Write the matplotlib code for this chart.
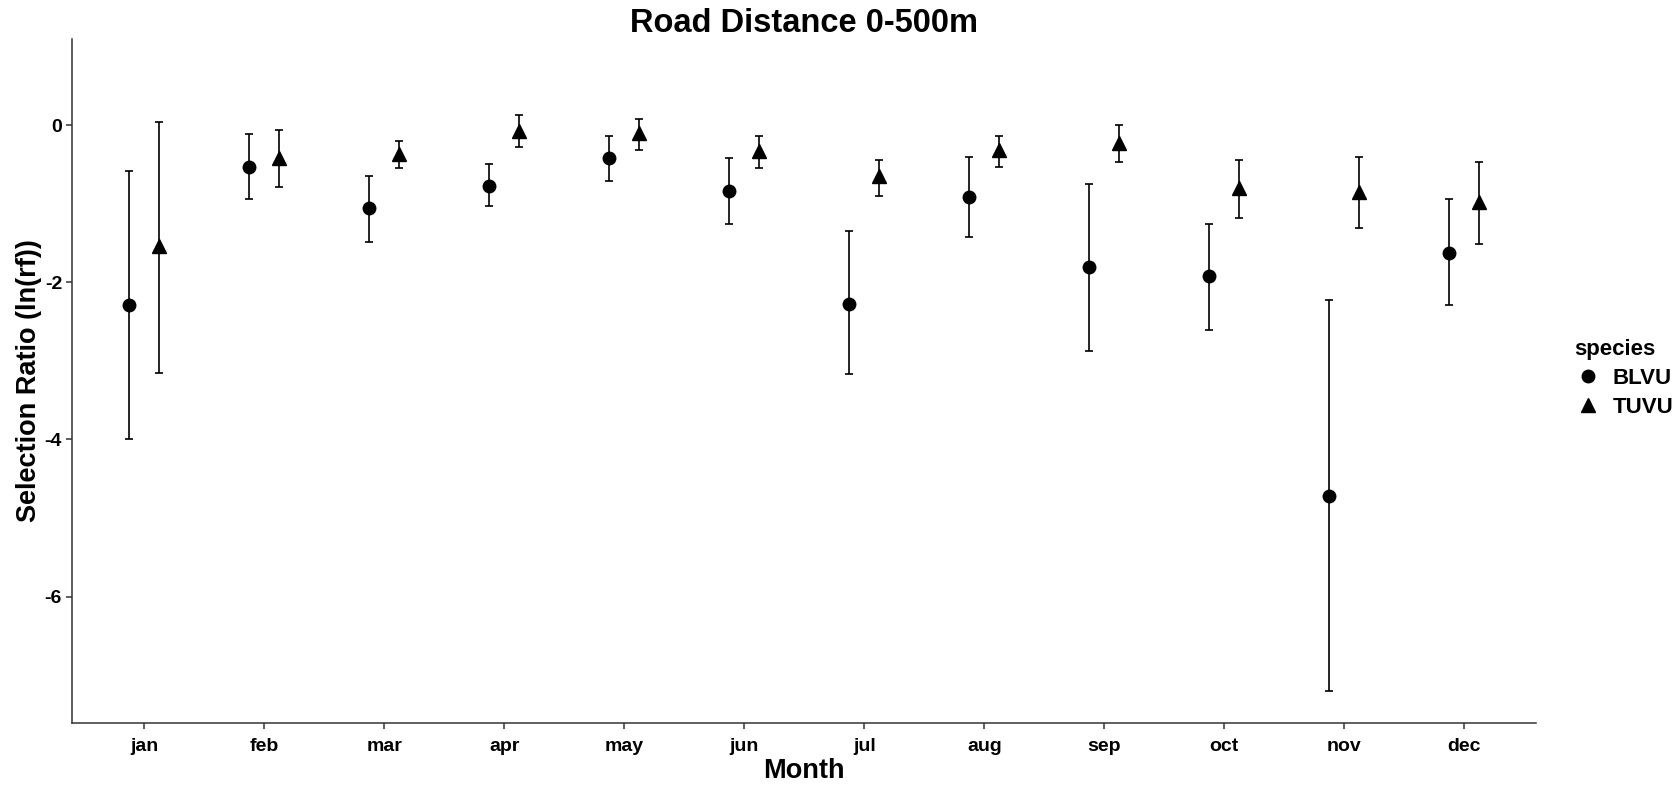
import numpy as np
import matplotlib
matplotlib.use("Agg")
import matplotlib.pyplot as plt
from matplotlib.lines import Line2D

plt.rcParams['font.family'] = ['Liberation Sans', 'DejaVu Sans']
plt.rcParams['font.weight'] = 'bold'
plt.rcParams['axes.unicode_minus'] = False

# selection ratio per month, mean with lower / upper bounds
months = ['jan', 'feb', 'mar', 'apr', 'may', 'jun', 'jul', 'aug', 'sep', 'oct', 'nov', 'dec']

blvu_mean = [-2.29, -0.53, -1.05, -0.77, -0.42, -0.84, -2.27, -0.91, -1.80, -1.92, -4.72, -1.62]
blvu_lo = [-3.99, -0.94, -1.49, -1.03, -0.71, -1.25, -3.17, -1.42, -2.87, -2.60, -7.20, -2.29]
blvu_hi = [-0.58, -0.11, -0.64, -0.49, -0.14, -0.42, -1.35, -0.40, -0.75, -1.25, -2.23, -0.94]

tuvu_mean = [-1.54, -0.42, -0.36, -0.07, -0.10, -0.33, -0.65, -0.32, -0.22, -0.80, -0.85, -0.98]
tuvu_lo = [-3.15, -0.78, -0.54, -0.27, -0.31, -0.54, -0.90, -0.53, -0.47, -1.18, -1.31, -1.51]
tuvu_hi = [0.045, -0.06, -0.20, 0.13, 0.08, -0.14, -0.44, -0.14, 0.00, -0.44, -0.40, -0.47]

x = np.arange(1, len(months) + 1)
dodge = 0.125

fig = plt.figure(figsize=(16.77, 7.89), dpi=100)
ax = fig.add_axes([0.0432, 0.0837, 0.916 - 0.0432, 0.9506 - 0.0837])

def draw(xpos, mean, lo, hi, marker, ms):
    mean = np.array(mean)
    yerr = [mean - np.array(lo), np.array(hi) - mean]
    ax.errorbar(xpos, mean, yerr=yerr, fmt='none', ecolor='black',
                elinewidth=1.2, capsize=3.2, capthick=1.2)
    ax.plot(xpos, mean, linestyle='none', marker=marker, color='black',
            markersize=ms, zorder=3)

draw(x - dodge, blvu_mean, blvu_lo, blvu_hi, 'o', 9)
draw(x + dodge, tuvu_mean, tuvu_lo, tuvu_hi, '^', 10)

ax.set_xlim(0.4, 12.6)
ax.set_ylim(-7.61, 1.1)
ax.set_xticks(x)
ax.set_xticklabels(months)
ax.set_yticks([-6, -4, -2, 0])

for side in ['top', 'right']:
    ax.spines[side].set_visible(False)
for side in ['left', 'bottom']:
    ax.spines[side].set_color('#333333')
    ax.spines[side].set_linewidth(1.1)
ax.tick_params(axis='both', colors='#333333', length=4, width=1.1,
               labelsize=14, labelcolor='black')
ax.tick_params(axis='x', pad=7)
for lab in ax.get_xticklabels() + ax.get_yticklabels():
    lab.set_fontweight('bold')

ax.set_xlabel('Month', fontsize=19.5, fontweight='bold', labelpad=2)
ax.set_ylabel('Selection Ratio (ln(rf))', fontsize=19.5, fontweight='bold', labelpad=2)
ax.set_title('Road Distance 0-500m', fontsize=23.5, fontweight='bold', pad=5)

handles = [Line2D([], [], linestyle='none', marker='o', color='black', markersize=9),
           Line2D([], [], linestyle='none', marker='^', color='black', markersize=10)]
leg = ax.legend(handles, ['BLVU', 'TUVU'], title='species', loc='center left',
                bbox_to_anchor=(0.927, 0.52), bbox_transform=fig.transFigure,
                frameon=False, fontsize=16, title_fontproperties={'weight': 'bold', 'size': 16},
                handletextpad=0.5, labelspacing=0.35, alignment='left', handlelength=1.2)
for t in leg.get_texts():
    t.set_fontweight('bold')

fig.savefig('out.png', dpi=100, facecolor='white')
